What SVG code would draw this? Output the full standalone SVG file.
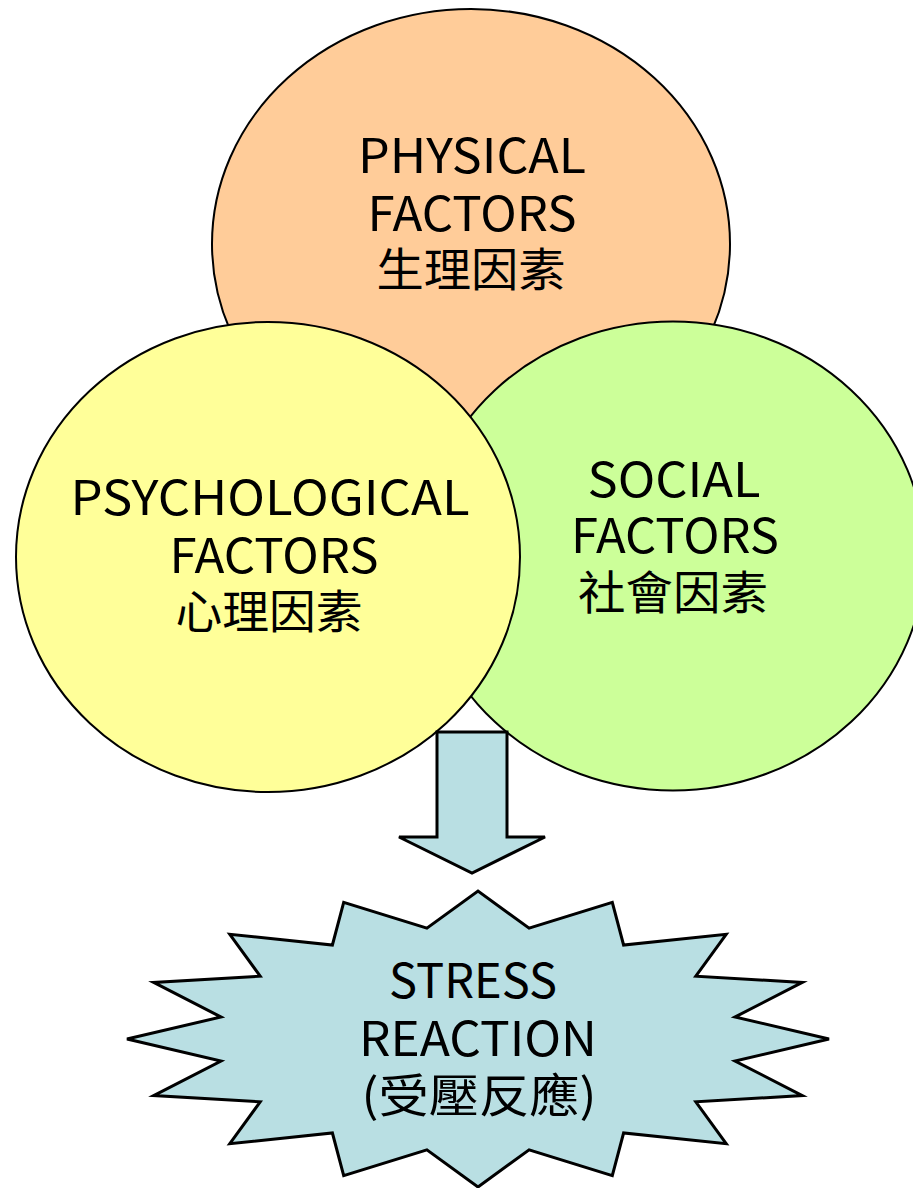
<svg xmlns="http://www.w3.org/2000/svg" width="913" height="1188" viewBox="0 0 913 1188">
<style>
.bub{stroke:#000;stroke-width:2}
.lbl{font-family:"Noto Sans CJK TC","Liberation Sans",sans-serif;font-size:48px;fill:#000;text-anchor:middle}
.cjk{font-family:"Noto Sans CJK TC",sans-serif;font-size:46px;fill:#000;text-anchor:middle}
.blue{fill:#B9DFE3;stroke:#000;stroke-width:3;stroke-linejoin:miter}
</style>
<rect width="913" height="1188" fill="#fff"/>
<g id="physical">
<ellipse class="bub" cx="471" cy="244" rx="259" ry="235" fill="#FFCC99"/>
<text class="lbl" x="472" y="173" textLength="228" lengthAdjust="spacingAndGlyphs">PHYSICAL</text>
<text class="lbl" x="472" y="231" textLength="209" lengthAdjust="spacingAndGlyphs">FACTORS</text>
<text class="cjk" x="471" y="286" textLength="189" lengthAdjust="spacingAndGlyphs">生理因素</text>
</g>
<g id="social">
<ellipse class="bub" cx="673" cy="556" rx="252" ry="234.5" fill="#CCFF99"/>
<text class="lbl" x="674" y="497" textLength="173" lengthAdjust="spacingAndGlyphs">SOCIAL</text>
<text class="lbl" x="675" y="553" textLength="208" lengthAdjust="spacingAndGlyphs">FACTORS</text>
<text class="cjk" x="673" y="609" textLength="190" lengthAdjust="spacingAndGlyphs">社會因素</text>
</g>
<g id="psychological">
<ellipse class="bub" cx="268" cy="557" rx="252" ry="235" fill="#FFFF99"/>
<text class="lbl" x="270" y="515" textLength="399" lengthAdjust="spacingAndGlyphs">PSYCHOLOGICAL</text>
<text class="lbl" x="274" y="573" textLength="209" lengthAdjust="spacingAndGlyphs">FACTORS</text>
<text class="cjk" x="269" y="628" textLength="187" lengthAdjust="spacingAndGlyphs">心理因素</text>
</g>
<g id="connectors">
<polygon class="blue" points="437,732 507,732 507,837 545,837 472,873 399,837 437,837"/>
</g>
<g id="stress">
<polygon class="blue" stroke-width="2.5" points="829,1039 735,1017 802.3,982.4 695.8,976.2 726.2,934.3 623.6,945 612.3,902.3 529.1,928.2 478,891 426.9,928.2 343.7,902.3 332.4,945 229.8,934.3 260.2,976.2 153.7,982.4 221,1017 127,1039 221,1061 153.7,1095.6 260.2,1101.8 229.8,1143.7 332.4,1133 343.7,1175.7 426.9,1149.8 478,1187 529.1,1149.8 612.3,1175.7 623.6,1133 726.2,1143.7 695.8,1101.8 802.3,1095.6 735,1061"/>
<text class="lbl" x="473" y="998" textLength="168" lengthAdjust="spacingAndGlyphs">STRESS</text>
<text class="lbl" x="478" y="1056" textLength="238" lengthAdjust="spacingAndGlyphs">REACTION</text>
<text class="cjk" x="479" y="1112" textLength="235" lengthAdjust="spacingAndGlyphs">(受壓反應)</text>
</g>
</svg>
